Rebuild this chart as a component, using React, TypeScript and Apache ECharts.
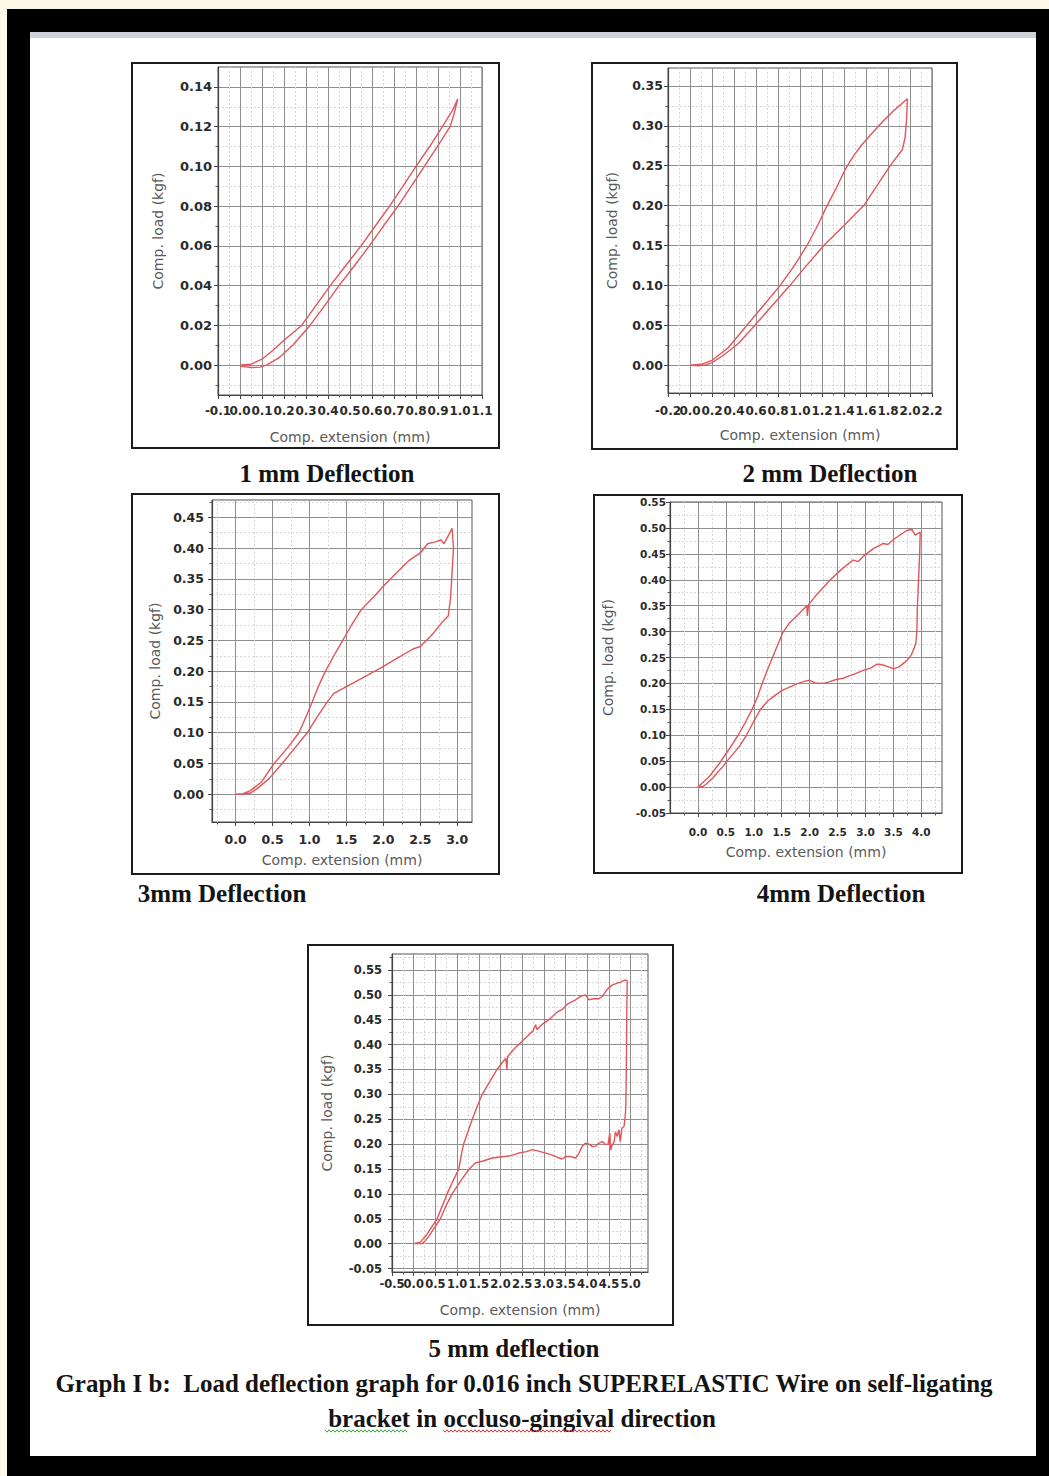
import React, { useEffect, useRef } from "react";
import * as echarts from "echarts";

type Pt = [number, number];

// ---------------- Panel 1 (1 mm) ----------------
const P1_X_TICKS = [-0.1, 0.0, 0.1, 0.2, 0.3, 0.4, 0.5, 0.6, 0.7, 0.8, 0.9, 1.0, 1.1];
const P1_X_MINOR = [-0.05, 0.05, 0.15, 0.25, 0.35, 0.45, 0.55, 0.65, 0.75, 0.85, 0.95, 1.05];
const P1_Y_TICKS = [0.0, 0.02, 0.04, 0.06, 0.08, 0.1, 0.12, 0.14];
const P1_Y_MINOR = [-0.01, 0.01, 0.03, 0.05, 0.07, 0.09, 0.11, 0.13];
const P1_LOAD: Pt[] = [
  [0.0, 0.0], [0.05, 0.0005], [0.1, 0.003], [0.15, 0.0075], [0.2, 0.0125], [0.28, 0.02],
  [0.345, 0.03], [0.41, 0.04], [0.48, 0.05], [0.55, 0.06], [0.615, 0.07], [0.68, 0.08],
  [0.74, 0.09], [0.8, 0.1], [0.862, 0.11], [0.92, 0.12], [0.965, 0.128], [0.99, 0.134],
];
const P1_UNLOAD: Pt[] = [
  [0.99, 0.134], [0.972, 0.126], [0.955, 0.12], [0.897, 0.11], [0.838, 0.1], [0.778, 0.09],
  [0.718, 0.08], [0.652, 0.07], [0.588, 0.06], [0.52, 0.05], [0.45, 0.04], [0.385, 0.03],
  [0.318, 0.02], [0.24, 0.01], [0.175, 0.0035], [0.12, 0.0], [0.09, -0.001], [0.05, -0.0012],
  [0.0, -0.0005],
];

// ---------------- Panel 2 (2 mm) ----------------
const P2_X_TICKS = [-0.2, 0.0, 0.2, 0.4, 0.6, 0.8, 1.0, 1.2, 1.4, 1.6, 1.8, 2.0, 2.2];
const P2_X_MINOR = [-0.1, 0.1, 0.3, 0.5, 0.7, 0.9, 1.1, 1.3, 1.5, 1.7, 1.9, 2.1];
const P2_Y_TICKS = [0.0, 0.05, 0.1, 0.15, 0.2, 0.25, 0.3, 0.35];
const P2_Y_MINOR = [-0.025, 0.025, 0.075, 0.125, 0.175, 0.225, 0.275, 0.325];
const P2_LOAD: Pt[] = [
  [0.0, 0.0], [0.1, 0.001], [0.2, 0.006], [0.35, 0.022], [0.517, 0.05], [0.67, 0.075],
  [0.82, 0.1], [0.95, 0.125], [1.064, 0.15], [1.16, 0.175], [1.246, 0.2], [1.33, 0.222],
  [1.41, 0.245], [1.49, 0.263], [1.56, 0.276], [1.65, 0.29], [1.75, 0.305], [1.86, 0.32],
  [1.976, 0.334],
];
const P2_UNLOAD: Pt[] = [
  [1.976, 0.334], [1.97, 0.31], [1.955, 0.285], [1.93, 0.27], [1.82, 0.25], [1.7, 0.225],
  [1.58, 0.2], [1.4, 0.175], [1.216, 0.15], [1.06, 0.125], [0.91, 0.1], [0.75, 0.075],
  [0.59, 0.05], [0.44, 0.027], [0.3, 0.012], [0.2, 0.003], [0.15, 0.0005], [0.08, -0.001],
  [0.0, 0.0],
];

// ---------------- Panel 3 (3 mm) ----------------
const P3_X_TICKS = [0.0, 0.5, 1.0, 1.5, 2.0, 2.5, 3.0];
const P3_X_MINOR = [-0.25, 0.25, 0.75, 1.25, 1.75, 2.25, 2.75];
const P3_Y_TICKS = [0.0, 0.05, 0.1, 0.15, 0.2, 0.25, 0.3, 0.35, 0.4, 0.45];
const P3_Y_MINOR = [-0.025, 0.025, 0.075, 0.125, 0.175, 0.225, 0.275, 0.325, 0.375, 0.425, 0.475];
const P3_LOAD: Pt[] = [
  [0.0, 0.0], [0.1, 0.001], [0.2, 0.006], [0.35, 0.02], [0.52, 0.05], [0.7, 0.075],
  [0.856, 0.1], [0.95, 0.125], [1.036, 0.15], [1.12, 0.175], [1.216, 0.2], [1.33, 0.225],
  [1.45, 0.25], [1.57, 0.275], [1.69, 0.298], [1.78, 0.31], [1.88, 0.322], [2.0, 0.338],
  [2.18, 0.36], [2.35, 0.38], [2.5, 0.392], [2.6, 0.407], [2.7, 0.41], [2.78, 0.413],
  [2.82, 0.407], [2.88, 0.42], [2.93, 0.432],
];
const P3_UNLOAD: Pt[] = [
  [2.93, 0.432], [2.95, 0.4], [2.93, 0.36], [2.91, 0.32], [2.88, 0.29], [2.8, 0.28],
  [2.65, 0.258], [2.5, 0.24], [2.4, 0.236], [2.2, 0.222], [1.96, 0.205], [1.7, 0.188],
  [1.5, 0.175], [1.33, 0.164], [1.24, 0.15], [1.1, 0.125], [0.97, 0.1], [0.8, 0.075],
  [0.63, 0.05], [0.45, 0.025], [0.3, 0.01], [0.2, 0.002], [0.1, 0.0], [0.0, 0.0],
];

// ---------------- Panel 4 (4 mm) ----------------
const P4_X_TICKS = [0.0, 0.5, 1.0, 1.5, 2.0, 2.5, 3.0, 3.5, 4.0];
const P4_X_MINOR = [-0.25, 0.25, 0.75, 1.25, 1.75, 2.25, 2.75, 3.25, 3.75, 4.25];
const P4_Y_TICKS = [-0.05, 0.0, 0.05, 0.1, 0.15, 0.2, 0.25, 0.3, 0.35, 0.4, 0.45, 0.5, 0.55];
const P4_Y_MINOR = [-0.025, 0.025, 0.075, 0.125, 0.175, 0.225, 0.275, 0.325, 0.375, 0.425, 0.475, 0.525];
const P4_LOAD: Pt[] = [
  [0.0, 0.0], [0.2, 0.02], [0.4, 0.048], [0.55, 0.072], [0.72, 0.1], [0.85, 0.125],
  [0.97, 0.15], [1.07, 0.175], [1.15, 0.2], [1.24, 0.225], [1.335, 0.25], [1.43, 0.275],
  [1.53, 0.3], [1.65, 0.318], [1.77, 0.33], [1.95, 0.35], [1.96, 0.33], [1.98, 0.352],
  [2.1, 0.368], [2.37, 0.4], [2.57, 0.42], [2.78, 0.438], [2.87, 0.435], [2.96, 0.445],
  [3.14, 0.46], [3.32, 0.47], [3.4, 0.468], [3.53, 0.48], [3.74, 0.495], [3.83, 0.497],
  [3.89, 0.486], [3.98, 0.492],
];
const P4_UNLOAD: Pt[] = [
  [3.98, 0.492], [3.97, 0.45], [3.95, 0.4], [3.93, 0.35], [3.92, 0.3], [3.9, 0.276],
  [3.82, 0.255], [3.74, 0.244], [3.6, 0.232], [3.5, 0.228], [3.44, 0.231], [3.3, 0.236],
  [3.2, 0.237], [3.1, 0.23], [2.96, 0.225], [2.8, 0.218], [2.72, 0.215], [2.6, 0.21],
  [2.49, 0.208], [2.35, 0.203], [2.25, 0.2], [2.1, 0.201], [2.0, 0.206], [1.9, 0.204],
  [1.75, 0.198], [1.6, 0.191], [1.5, 0.186], [1.38, 0.177], [1.25, 0.166], [1.12, 0.15],
  [1.0, 0.127], [0.87, 0.1], [0.75, 0.08], [0.63, 0.064], [0.52, 0.05], [0.45, 0.04],
  [0.35, 0.028], [0.27, 0.018], [0.15, 0.006], [0.09, 0.001], [0.0, 0.0],
];

// ---------------- Panel 5 (5 mm) ----------------
const P5_X_TICKS = [-0.5, 0.0, 0.5, 1.0, 1.5, 2.0, 2.5, 3.0, 3.5, 4.0, 4.5, 5.0];
const P5_X_MINOR = [-0.25, 0.25, 0.75, 1.25, 1.75, 2.25, 2.75, 3.25, 3.75, 4.25, 4.75, 5.25];
const P5_Y_TICKS = [-0.05, 0.0, 0.05, 0.1, 0.15, 0.2, 0.25, 0.3, 0.35, 0.4, 0.45, 0.5, 0.55];
const P5_Y_MINOR = [-0.025, 0.025, 0.075, 0.125, 0.175, 0.225, 0.275, 0.325, 0.375, 0.425, 0.475, 0.525, 0.575];
const P5_LOAD: Pt[] = [
  [0.0, 0.0], [0.15, 0.003], [0.3, 0.018], [0.54, 0.05], [0.77, 0.1], [0.9, 0.125],
  [1.04, 0.15], [1.1, 0.18], [1.15, 0.2], [1.25, 0.225], [1.35, 0.25], [1.46, 0.275],
  [1.58, 0.3], [1.75, 0.325], [1.92, 0.35], [2.05, 0.365], [2.12, 0.372], [2.15, 0.35],
  [2.16, 0.375], [2.3, 0.39], [2.42, 0.4], [2.6, 0.415], [2.75, 0.428], [2.81, 0.44],
  [2.84, 0.43], [2.95, 0.44], [3.12, 0.45], [3.3, 0.465], [3.42, 0.47], [3.55, 0.482],
  [3.73, 0.49], [3.85, 0.497], [3.96, 0.5], [4.04, 0.49], [4.15, 0.492], [4.27, 0.492],
  [4.35, 0.497], [4.45, 0.51], [4.58, 0.52], [4.75, 0.525], [4.88, 0.53], [4.92, 0.528],
];
const P5_UNLOAD: Pt[] = [
  [4.92, 0.528], [4.91, 0.45], [4.9, 0.35], [4.89, 0.28], [4.88, 0.262], [4.85, 0.236],
  [4.8, 0.232], [4.76, 0.205], [4.73, 0.229], [4.69, 0.215], [4.65, 0.225], [4.62, 0.205],
  [4.56, 0.195], [4.54, 0.188], [4.52, 0.222], [4.48, 0.2], [4.42, 0.199], [4.35, 0.205],
  [4.27, 0.202], [4.2, 0.196], [4.12, 0.195], [4.04, 0.2], [3.96, 0.202], [3.88, 0.195],
  [3.8, 0.18], [3.73, 0.172], [3.62, 0.175], [3.5, 0.175], [3.42, 0.17], [3.35, 0.172],
  [3.2, 0.178], [3.04, 0.182], [2.88, 0.186], [2.73, 0.189], [2.6, 0.185], [2.42, 0.182],
  [2.2, 0.176], [2.0, 0.174], [1.81, 0.172], [1.6, 0.166], [1.42, 0.162], [1.27, 0.149],
  [1.1, 0.128], [0.885, 0.1], [0.75, 0.077], [0.615, 0.05], [0.45, 0.028], [0.35, 0.015],
  [0.25, 0.004], [0.19, 0.0], [0.0, 0.0],
];

const TITLES = ["1 mm Deflection", "2 mm Deflection", "3mm Deflection", "4mm Deflection", "5 mm deflection"];
const CAPTION_1 = "Graph I b:  Load deflection graph for 0.016 inch SUPERELASTIC Wire on self-ligating";
const CAPTION_2 = "bracket in occluso-gingival direction";
const X_NAME = "Comp. extension (mm)";
const Y_NAME = "Comp. load (kgf)";

// ---------------- layout ----------------
const PANELS = [
  {
    grid: { left: 218, top: 67, width: 264, height: 328 },
    x: [-0.1, 1.1], y: [-0.015, 0.15],
    xT: P1_X_TICKS, xM: P1_X_MINOR, yT: P1_Y_TICKS, yM: P1_Y_MINOR,
    font: 13, xFont: 12, xMargin: 10, yMargin: 6, xGap: 35, yGap: 53,
    load: P1_LOAD, unload: P1_UNLOAD,
    box: [132, 63, 367, 385], title: [327, 473],
  },
  {
    grid: { left: 668, top: 68, width: 264, height: 325 },
    x: [-0.2, 2.2], y: [-0.035, 0.3725],
    xT: P2_X_TICKS, xM: P2_X_MINOR, yT: P2_Y_TICKS, yM: P2_Y_MINOR,
    font: 12.5, xFont: 12, xMargin: 12, yMargin: 5, xGap: 35, yGap: 49,
    load: P2_LOAD, unload: P2_UNLOAD,
    box: [592, 63, 365, 386], title: [830, 473],
  },
  {
    grid: { left: 212, top: 500, width: 260, height: 322 },
    x: [-0.32, 3.2], y: [-0.045, 0.478],
    xT: P3_X_TICKS, xM: P3_X_MINOR, yT: P3_Y_TICKS, yM: P3_Y_MINOR,
    font: 12.5, xFont: 12.5, xMargin: 11, yMargin: 8, xGap: 31, yGap: 50,
    load: P3_LOAD, unload: P3_UNLOAD,
    box: [132, 494, 367, 380], title: [222, 893],
  },
  {
    grid: { left: 670, top: 502, width: 272, height: 311 },
    x: [-0.5, 4.37], y: [-0.05, 0.55],
    xT: P4_X_TICKS, xM: P4_X_MINOR, yT: P4_Y_TICKS, yM: P4_Y_MINOR,
    font: 10.5, xFont: 10.5, xMargin: 13, yMargin: 4, xGap: 32, yGap: 55,
    load: P4_LOAD, unload: P4_UNLOAD,
    box: [594, 495, 368, 378], title: [841, 893],
  },
  {
    grid: { left: 392, top: 954, width: 256, height: 318 },
    x: [-0.5, 5.4], y: [-0.057, 0.582],
    xT: P5_X_TICKS, xM: P5_X_MINOR, yT: P5_Y_TICKS, yM: P5_Y_MINOR,
    font: 11.5, xFont: 11.5, xMargin: 6, yMargin: 10, xGap: 31, yGap: 58,
    load: P5_LOAD, unload: P5_UNLOAD,
    box: [308, 945, 365, 380], title: [514, 1348],
  },
];

const SANS = '"DejaVu Sans", "Liberation Sans", Arial, sans-serif';
const SERIF = '"Liberation Serif", "Times New Roman", serif';
const CURVE = "#e0565b";

function squiggle(x0: number, x1: number, y: number) {
  const pts: number[][] = [];
  let up = true;
  for (let x = x0; x <= x1; x += 2) {
    pts.push([x, up ? y - 1.2 : y + 1.2]);
    up = !up;
  }
  return pts;
}

function buildOption() {
  const grids: any[] = [];
  const xAxes: any[] = [];
  const yAxes: any[] = [];
  const series: any[] = [];
  const graphics: any[] = [
    { type: "rect", z: -30, shape: { x: 0, y: 0, width: 1049, height: 1476 }, style: { fill: "#fdf8e7" }, silent: true },
    { type: "rect", z: -29, shape: { x: 7, y: 9, width: 1042, height: 1467 }, style: { fill: "#000000" }, silent: true },
    { type: "rect", z: -28, shape: { x: 30, y: 32, width: 1006, height: 1424 }, style: { fill: "#ffffff" }, silent: true },
    { type: "rect", z: -27, shape: { x: 30, y: 32, width: 1006, height: 6 }, style: { fill: "#ccd1da" }, silent: true },
  ];

  PANELS.forEach((p, i) => {
    grids.push({
      ...p.grid,
      show: true,
      backgroundColor: "#ffffff",
      borderColor: "#555555",
      borderWidth: 1,
      containLabel: false,
      outerBoundsMode: "none",
    });
    const labelStyle = {
      fontFamily: SANS,
      fontSize: p.font,
      fontWeight: "bold",
      color: "#2b2b2b",
    };
    const xLabelStyle = { ...labelStyle, fontSize: p.xFont };
    const nameStyle = { fontFamily: SANS, fontSize: 14, color: "#5a5a5a" };
    // x tick labels split over two axes so that touching labels are never dropped
    const xLabA = p.xT.filter((_, k) => k % 2 === 0);
    const xLabB = p.xT.filter((_, k) => k % 2 === 1);
    // minor x (also carries every other major label)
    xAxes.push({
      gridIndex: i, type: "value", position: "bottom", min: p.x[0], max: p.x[1],
      axisLine: { show: false, onZero: false },
      axisTick: { show: true, customValues: p.xM, length: 2.5, lineStyle: { color: "#555" } },
      axisLabel: {
        show: true, customValues: xLabB, margin: p.xMargin, ...xLabelStyle,
        showMinLabel: true, showMaxLabel: true,
        formatter: (v: number) => v.toFixed(1),
      },
      splitLine: { show: true, lineStyle: { color: "#d6d6d6", width: 1, type: [2, 2] } },
    });
    // major x
    xAxes.push({
      gridIndex: i, type: "value", position: "bottom", min: p.x[0], max: p.x[1],
      axisLine: { show: true, onZero: false, lineStyle: { color: "#444", width: 1.2 } },
      axisTick: { show: true, customValues: p.xT, length: 4, lineStyle: { color: "#444" } },
      axisLabel: {
        show: true, customValues: xLabA, margin: p.xMargin, ...xLabelStyle,
        showMinLabel: true, showMaxLabel: true,
        formatter: (v: number) => v.toFixed(1),
      },
      splitLine: { show: true, lineStyle: { color: "#8e8e8e", width: 1 } },
      name: X_NAME, nameLocation: "middle", nameGap: p.xGap, nameTextStyle: nameStyle,
    });
    // minor y
    yAxes.push({
      gridIndex: i, type: "value", position: "left", min: p.y[0], max: p.y[1],
      axisLine: { show: false, onZero: false },
      axisTick: { show: true, customValues: p.yM, length: 2.5, lineStyle: { color: "#555" } },
      axisLabel: { show: false, customValues: p.yM },
      splitLine: { show: true, lineStyle: { color: "#d6d6d6", width: 1, type: [2, 2] } },
    });
    // major y
    yAxes.push({
      gridIndex: i, type: "value", position: "left", min: p.y[0], max: p.y[1],
      axisLine: { show: true, onZero: false, lineStyle: { color: "#444", width: 1.2 } },
      axisTick: { show: true, customValues: p.yT, length: 4, lineStyle: { color: "#444" } },
      axisLabel: {
        show: true, customValues: p.yT, margin: p.yMargin, ...labelStyle,
        showMinLabel: true, showMaxLabel: true,
        formatter: (v: number) => v.toFixed(2),
      },
      splitLine: { show: true, lineStyle: { color: "#8e8e8e", width: 1 } },
      name: Y_NAME, nameLocation: "middle", nameGap: p.yGap, nameTextStyle: nameStyle,
    });
    series.push({
      type: "line",
      xAxisIndex: 2 * i + 1,
      yAxisIndex: 2 * i + 1,
      data: [...p.load, ...p.unload],
      showSymbol: false,
      symbol: "none",
      smooth: false,
      silent: true,
      z: 5,
      lineStyle: { color: CURVE, width: 1.4 },
    });
    graphics.push({
      type: "rect", z: 1, silent: true,
      shape: { x: p.box[0], y: p.box[1], width: p.box[2], height: p.box[3] },
      style: { fill: "none", stroke: "#1c1c1c", lineWidth: 2 },
    });
    graphics.push({
      type: "text", z: 10, x: p.title[0], y: p.title[1], silent: true,
      style: {
        text: TITLES[i], font: `bold 25px ${SERIF}`, fill: "#141414",
        textAlign: "center", textVerticalAlign: "middle", align: "center", verticalAlign: "middle",
      },
    });
  });

  graphics.push({
    type: "text", z: 10, x: 524, y: 1383, silent: true,
    style: {
      text: CAPTION_1, font: `bold 25px ${SERIF}`, fill: "#141414",
      textAlign: "center", textVerticalAlign: "middle", align: "center", verticalAlign: "middle",
    },
  });
  graphics.push({
    type: "text", z: 10, x: 522, y: 1418, silent: true,
    style: {
      text: CAPTION_2, font: `bold 25px ${SERIF}`, fill: "#141414",
      textAlign: "center", textVerticalAlign: "middle", align: "center", verticalAlign: "middle",
    },
  });
  graphics.push({
    type: "polyline", z: 11, silent: true,
    shape: { points: squiggle(325, 408, 1431) },
    style: { stroke: "#3aa83a", lineWidth: 1, fill: "none" },
  });
  graphics.push({
    type: "polyline", z: 11, silent: true,
    shape: { points: squiggle(443, 611, 1431) },
    style: { stroke: "#e03030", lineWidth: 1, fill: "none" },
  });

  return {
    animation: false,
    backgroundColor: "transparent",
    textStyle: { fontFamily: SANS },
    grid: grids,
    xAxis: xAxes,
    yAxis: yAxes,
    series,
    graphic: { elements: graphics },
  };
}

export default function App() {
  const ref = useRef<HTMLDivElement>(null);
  useEffect(() => {
    if (!ref.current) return;
    const chart = echarts.init(ref.current, undefined, { renderer: "svg" });
    chart.setOption(buildOption() as any);
    return () => chart.dispose();
  }, []);
  return (
    <div
      ref={ref}
      style={{ position: "absolute", left: 0, top: 0, width: 1049, height: 1476 }}
    />
  );
}
